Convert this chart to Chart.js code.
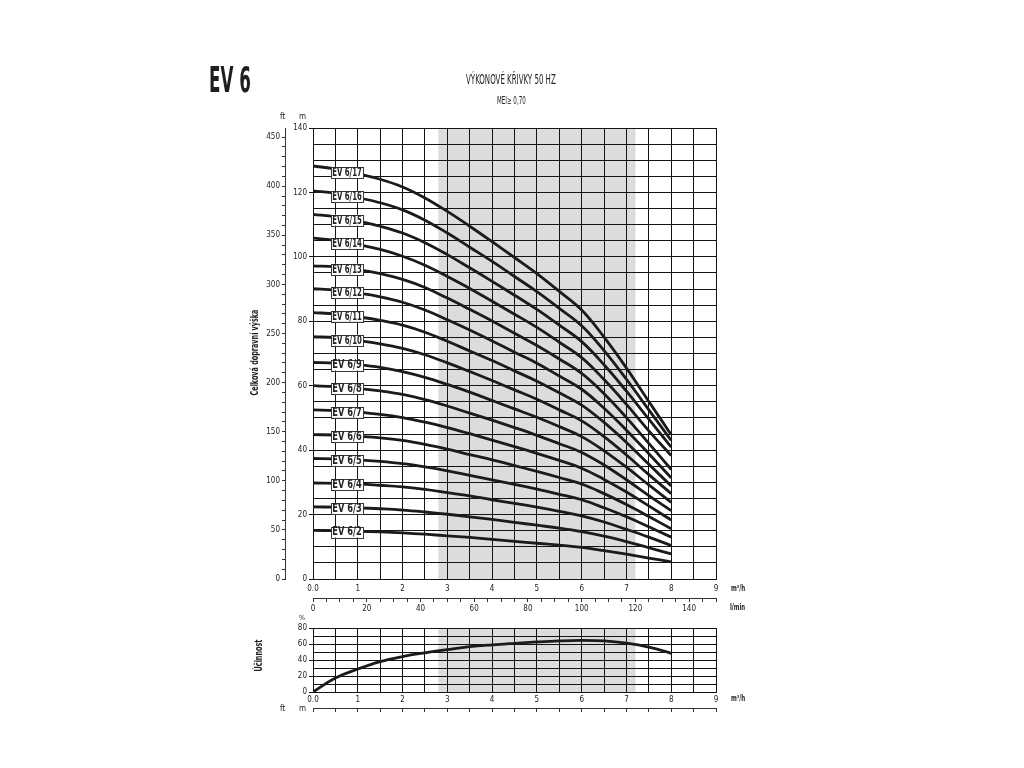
<!DOCTYPE html>
<html>
<head>
<meta charset="utf-8">
<script src="https://cdn.jsdelivr.net/npm/chart.js@4.4.1/dist/chart.umd.min.js"></script>
<style>
  html, body { margin: 0; padding: 0; background: #fff; width: 1024px; height: 768px; overflow: hidden; }
  canvas { position: absolute; left: 0; }
  #main { top: 0; }
  #eff { top: 620px; }
  .t { position: absolute; white-space: nowrap; color: #1e1e1e; line-height: 1;
       font-family: "Liberation Sans Narrow", "DejaVu Sans Condensed", "Liberation Sans", sans-serif; }
</style>
</head>
<body>
<canvas id="main" width="1024" height="620"></canvas>
<canvas id="eff" width="1024" height="100"></canvas>
<script>
// ---------------- DATA ----------------
const Q = [0, 0.5, 1, 1.5, 2, 2.5, 3, 3.5, 4, 4.5, 5, 5.5, 6, 6.5, 7, 7.5, 8]; // m3/h
const MODELS = ['EV 6/2','EV 6/3','EV 6/4','EV 6/5','EV 6/6','EV 6/7','EV 6/8','EV 6/9','EV 6/10','EV 6/11','EV 6/12','EV 6/13','EV 6/14','EV 6/15','EV 6/16','EV 6/17'];
const H_EV6_2  = [15.1, 15.0, 14.8, 14.6, 14.3, 13.9, 13.4, 12.9, 12.3, 11.7, 11.1, 10.5, 9.8, 8.8, 7.7, 6.5, 5.3];
const H_EV6_3  = [22.4, 22.3, 22.1, 21.8, 21.4, 20.8, 20.1, 19.3, 18.5, 17.6, 16.7, 15.8, 14.7, 13.3, 11.6, 9.7, 7.8];
const H_EV6_4  = [29.8, 29.7, 29.5, 29.1, 28.6, 27.8, 26.8, 25.8, 24.6, 23.5, 22.3, 21.0, 19.6, 17.7, 15.4, 13.0, 10.4];
const H_EV6_5  = [37.4, 37.3, 37.0, 36.5, 35.8, 34.8, 33.6, 32.2, 30.8, 29.4, 27.9, 26.3, 24.6, 22.1, 19.3, 16.2, 13.0];
const H_EV6_6  = [44.8, 44.7, 44.3, 43.8, 43.0, 41.8, 40.3, 38.6, 37.0, 35.2, 33.4, 31.5, 29.5, 26.5, 23.1, 19.4, 15.6];
const H_EV6_7  = [52.5, 52.3, 51.8, 51.1, 50.1, 48.7, 47.0, 45.1, 43.1, 41.1, 39.0, 36.8, 34.4, 30.9, 27.0, 22.7, 18.3];
const H_EV6_8  = [60.0, 59.7, 59.2, 58.4, 57.3, 55.7, 53.7, 51.5, 49.3, 47.0, 44.6, 42.0, 39.3, 35.4, 30.8, 25.9, 21.2];
const H_EV6_9  = [67.2, 67.0, 66.5, 65.7, 64.4, 62.6, 60.4, 58.0, 55.4, 52.8, 50.2, 47.3, 44.2, 39.8, 34.7, 29.2, 23.8];
const H_EV6_10 = [75.2, 74.9, 74.0, 73.0, 71.6, 69.6, 67.1, 64.4, 61.6, 58.7, 55.8, 52.5, 49.1, 44.2, 38.5, 32.4, 26.5];
const H_EV6_11 = [82.7, 82.3, 81.4, 80.3, 78.8, 76.6, 73.8, 70.8, 67.8, 64.6, 61.4, 57.8, 54.0, 48.6, 42.4, 35.6, 28.9];
const H_EV6_12 = [90.1, 89.7, 88.8, 87.6, 85.9, 83.5, 80.5, 77.3, 73.9, 70.4, 67.0, 63.0, 58.9, 53.0, 46.2, 38.9, 31.4];
const H_EV6_13 = [97.2, 96.9, 96.0, 94.8, 93.0, 90.5, 87.2, 83.7, 80.1, 76.3, 72.5, 68.3, 63.8, 57.5, 50.1, 42.1, 34.0];
const H_EV6_14 = [105.8, 105.1, 103.8, 102.3, 100.2, 97.4, 93.9, 90.2, 86.2, 82.2, 78.1, 73.5, 68.7, 61.9, 54.2, 46.0, 38.3];
const H_EV6_15 = [113.2, 112.4, 111.1, 109.5, 107.4, 104.4, 100.7, 96.6, 92.4, 88.1, 83.7, 78.8, 73.7, 66.5, 58.3, 49.6, 40.9];
const H_EV6_16 = [120.5, 119.7, 118.4, 116.8, 114.6, 111.4, 107.4, 103.0, 98.6, 93.9, 89.2, 84.0, 78.6, 70.9, 62.0, 52.5, 43.0];
const H_EV6_17 = [128.2, 127.3, 125.8, 124.1, 121.7, 118.3, 114.1, 109.5, 104.7, 99.8, 94.8, 89.3, 83.5, 75.1, 65.5, 55.1, 44.8];
const HEADS = [H_EV6_2, H_EV6_3, H_EV6_4, H_EV6_5, H_EV6_6, H_EV6_7, H_EV6_8, H_EV6_9, H_EV6_10, H_EV6_11, H_EV6_12, H_EV6_13, H_EV6_14, H_EV6_15, H_EV6_16, H_EV6_17];
const EFFICIENCY = [0, 17.5, 28.7, 38.0, 44.3, 49.0, 53.0, 56.6, 59.0, 60.9, 62.6, 63.9, 64.5, 63.8, 61.0, 56.0, 48.4]; // %
const BAND = [2.8, 7.2];           // recommended range, m3/h
const X_MAX = 9, H_MAX = 140, EFF_MAX = 80;
const LMIN_MAX = 150;              // 9 m3/h = 150 l/min
const FT_PER_M = 3.28084;
const X_LABEL_STEP = 1, LMIN_LABEL_STEP = 20, M_LABEL_STEP = 20, FT_LABEL_STEP = 50, EFF_LABEL_STEP = 20;

// ---------------- STYLE ----------------
const FONT = '"Liberation Sans Narrow", "DejaVu Sans Condensed", "Liberation Sans", sans-serif';
const INK = '#1b1b1b';
const GRID = '#141414';
const tickFont = { family: FONT, size: 8 };
const isMult = (v, s) => Math.abs(v / s - Math.round(v / s)) < 1e-6;
const xLabel = v => isMult(v, X_LABEL_STEP) ? (v === 0 ? '0.0' : String(v)) : '';

const bandPlugin = {
  id: 'band',
  beforeDraw(chart) {
    const { ctx, chartArea: a, scales } = chart;
    const x0 = scales.x.getPixelForValue(BAND[0]);
    const x1 = scales.x.getPixelForValue(BAND[1]);
    ctx.save();
    ctx.fillStyle = '#dcdcdf';
    ctx.fillRect(x0, a.top, x1 - x0, a.bottom - a.top);
    ctx.restore();
  }
};

const LABEL_Q = 0.76;
const labelPlugin = {
  id: 'curveLabels',
  afterDatasetsDraw(chart) {
    const { ctx, scales } = chart;
    ctx.save();
    chart.data.datasets.forEach((ds, i) => {
      const d = ds.data;
      let k = 0;
      while (k < d.length - 2 && d[k + 1].x < LABEL_Q) k++;
      const t = (LABEL_Q - d[k].x) / (d[k + 1].x - d[k].x);
      const yv = d[k].y + t * (d[k + 1].y - d[k].y);
      const cx = scales.x.getPixelForValue(LABEL_Q);
      const cy = scales.y.getPixelForValue(yv) + 1;
      const w = 32, h = 11;
      ctx.fillStyle = '#ffffff';
      ctx.fillRect(cx - w / 2, cy - h / 2, w, h);
      ctx.strokeStyle = '#3a3a3a';
      ctx.lineWidth = 1;
      ctx.strokeRect(Math.round(cx - w / 2) + 0.5, Math.round(cy - h / 2) + 0.5, w, h);
      ctx.font = 'bold 11.5px ' + FONT;
      const tw = ctx.measureText(ds.label).width;
      const sx = Math.min(1, 29.5 / tw);
      ctx.save();
      ctx.translate(cx, cy + 0.5);
      ctx.scale(sx, 1);
      ctx.fillStyle = '#222';
      ctx.textAlign = 'center';
      ctx.textBaseline = 'middle';
      ctx.fillText(ds.label, 0, 0);
      ctx.restore();
    });
    ctx.restore();
  }
};

const datasets = HEADS.map((arr, i) => ({
  label: MODELS[i],
  data: Q.map((q, j) => ({ x: q, y: arr[j] })),
  borderColor: INK,
  borderWidth: 2.8,
  pointRadius: 0,
  fill: false,
  tension: 0.4
}));

new Chart(document.getElementById('main'), {
  type: 'line',
  data: { datasets },
  plugins: [bandPlugin, labelPlugin],
  options: {
    responsive: false,
    animation: false,
    devicePixelRatio: 1,
    layout: { padding: { left: 255, right: 308, top: 128, bottom: 2 } },
    plugins: { legend: { display: false }, tooltip: { enabled: false } },
    scales: {
      x: {
        type: 'linear', position: 'bottom', weight: 0, min: 0, max: X_MAX,
        ticks: { stepSize: 0.5, autoSkip: false, maxRotation: 0, padding: 5, color: '#222', font: tickFont, callback: xLabel },
        grid: { color: GRID, lineWidth: 1, drawTicks: false },
        border: { display: true, color: GRID },
        afterFit: s => { s.height = 19; }
      },
      xl: {
        type: 'linear', position: 'bottom', weight: 1, min: 0, max: LMIN_MAX,
        ticks: { stepSize: 5, autoSkip: false, maxRotation: 0, padding: 2, color: '#222', font: tickFont,
                 callback: v => isMult(v, LMIN_LABEL_STEP) && v < LMIN_MAX ? String(v) : '' },
        grid: { drawOnChartArea: false, drawTicks: true, tickLength: 4, color: '#333' },
        border: { display: true, color: '#333' },
        afterFit: s => { s.height = 20; }
      },
      y: {
        type: 'linear', position: 'left', weight: 0, min: 0, max: H_MAX,
        ticks: { stepSize: 5, autoSkip: false, padding: 2, color: '#222', font: tickFont,
                 callback: v => isMult(v, M_LABEL_STEP) ? String(v) : '' },
        grid: { color: GRID, lineWidth: 1, tickLength: 4,
                tickColor: c => (c.tick && isMult(c.tick.value, M_LABEL_STEP)) ? GRID : 'rgba(0,0,0,0)' },
        border: { display: true, color: GRID },
        afterFit: s => { s.width = 28; }
      },
      ft: {
        type: 'linear', position: 'left', weight: 1, min: 0, max: H_MAX * FT_PER_M,
        ticks: { stepSize: 10, autoSkip: false, includeBounds: false, padding: 2, color: '#222', font: tickFont,
                 callback: v => isMult(v, FT_LABEL_STEP) ? String(v) : '' },
        grid: { drawOnChartArea: false, drawTicks: true,
                tickLength: 3, color: '#333' },
        border: { display: true, color: '#333' },
        afterFit: s => { s.width = 30; }
      }
    }
  }
});

new Chart(document.getElementById('eff'), {
  type: 'line',
  data: { datasets: [{
    label: 'Účinnost',
    data: Q.map((q, j) => ({ x: q, y: EFFICIENCY[j] })),
    borderColor: INK, borderWidth: 2.8, pointRadius: 0, fill: false, tension: 0.4
  }] },
  plugins: [bandPlugin],
  options: {
    responsive: false,
    animation: false,
    devicePixelRatio: 1,
    layout: { padding: { left: 285, right: 308, top: 8, bottom: 6 } },
    plugins: { legend: { display: false }, tooltip: { enabled: false } },
    scales: {
      x: {
        type: 'linear', position: 'bottom', weight: 0, min: 0, max: X_MAX,
        ticks: { stepSize: 0.5, autoSkip: false, maxRotation: 0, padding: 3, color: '#222', font: tickFont, callback: xLabel },
        grid: { color: GRID, lineWidth: 1, drawTicks: false },
        border: { display: true, color: GRID },
        afterFit: s => { s.height = 16; }
      },
      x2: {
        type: 'linear', position: 'bottom', weight: 1, min: 0, max: X_MAX,
        ticks: { stepSize: 0.5, autoSkip: false, maxRotation: 0, padding: 0, font: tickFont, callback: () => '' },
        grid: { drawOnChartArea: false, drawTicks: true, tickLength: 4, color: '#333' },
        border: { display: true, color: '#333' },
        afterFit: s => { s.height = 6; }
      },
      y: {
        type: 'linear', position: 'left', min: 0, max: EFF_MAX,
        ticks: { stepSize: 10, autoSkip: false, padding: 2, color: '#222', font: tickFont,
                 callback: v => isMult(v, EFF_LABEL_STEP) ? String(v) : '' },
        grid: { color: GRID, lineWidth: 1, tickLength: 4,
                tickColor: c => (c.tick && isMult(c.tick.value, EFF_LABEL_STEP)) ? GRID : 'rgba(0,0,0,0)' },
        border: { display: true, color: GRID },
        afterFit: s => { s.width = 28; }
      }
    }
  }
});

// ---------------- TEXT ----------------
function addText(txt, opt) {
  const el = document.createElement('div');
  el.className = 't';
  el.textContent = txt;
  el.style.fontSize = opt.fs + 'px';
  el.style.fontWeight = opt.bold ? 'bold' : 'normal';
  document.body.appendChild(el);
  const w = el.offsetWidth, h = el.offsetHeight;
  const sx = opt.tw ? opt.tw / w : 1;
  if (opt.rot) {
    el.style.left = (opt.cx - w / 2) + 'px';
    el.style.top = (opt.cy - h / 2) + 'px';
    el.style.transform = 'rotate(-90deg) scaleX(' + sx + ')';
    el.style.transformOrigin = '50% 50%';
  } else {
    const left = opt.cx !== undefined ? opt.cx - (w * sx) / 2 : opt.x;
    el.style.left = left + 'px';
    el.style.top = (opt.cy - h / 2) + 'px';
    el.style.transform = 'scaleX(' + sx + ')';
    el.style.transformOrigin = '0 50%';
  }
}
addText('EV 6', { x: 209, cy: 80, fs: 35, bold: true, tw: 42 });
addText('VÝKONOVÉ KŘIVKY 50 HZ', { cx: 511, cy: 80, fs: 13.5, tw: 90 });
addText('MEI≥ 0,70', { cx: 511, cy: 101, fs: 10, tw: 29 });
addText('ft', { x: 280, cy: 117, fs: 8 });
addText('m', { x: 299, cy: 117, fs: 8 });
addText('Celková dopravní výška', { cx: 255, cy: 352, fs: 11, bold: true, tw: 86, rot: true });
addText('Účinnost', { cx: 258, cy: 655, fs: 11, bold: true, tw: 32, rot: true });
addText('m³/h', { x: 731, cy: 589, fs: 8, bold: true, tw: 14 });
addText('l/min', { x: 730, cy: 608, fs: 8, bold: true, tw: 15 });
addText('m³/h', { x: 731, cy: 699, fs: 8, bold: true, tw: 14 });
addText('%', { x: 299, cy: 618, fs: 7 });
addText('ft', { x: 280, cy: 709, fs: 8 });
addText('m', { x: 299, cy: 709, fs: 8 });
</script>
</body>
</html>
